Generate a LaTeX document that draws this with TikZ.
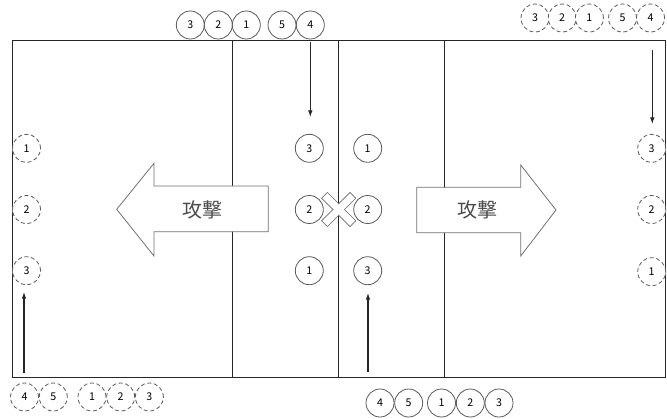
\documentclass[tikz,border=0pt]{standalone}
\usepackage{fontspec}
\usepackage{tikz}
\usetikzlibrary{arrows.meta}
\newfontfamily\jpfont{Noto Sans CJK JP}
\definecolor{ringgray}{HTML}{5A5A5A}
\definecolor{bigarrow}{HTML}{707070}
\tikzset{
  pl/.style={circle, draw=ringgray, fill=white, line width=0.6pt, minimum size=21pt, inner sep=0pt, font=\jpfont\fontsize{8}{8}\selectfont},
  op/.style={pl, dashed, dash pattern=on 3pt off 2pt},
  run/.style={-{Latex[length=5pt, width=3.5pt]}, line width=0.8pt, black!85},
  court/.style={line width=0.7pt, black!85},
  attack/.style={draw=bigarrow, fill=white, line width=0.6pt},
  atktext/.style={text=black!70, font=\jpfont\fontsize{15}{15}\selectfont}
}

\begin{document}
\begin{tikzpicture}[x=0.75pt, y=-0.75pt]
    \useasboundingbox (0, 0) rectangle (667, 418);
    % court
    \draw [court]    (12, 40) rectangle (665.5, 377.5);
    \draw [court]    (232, 40) -- (232, 377.5);
    \draw [court]    (338.7, 40) -- (338.7, 377.5);
    \draw [court]    (444.5, 40) -- (444.5, 377.5);
    % attack arrows
    \draw [attack]   (268.3, 186) -- (154, 186) -- (154, 163.3) -- (116.7, 209.3)
                     -- (154, 256) -- (154, 231.7) -- (268.3, 231.7) -- cycle;
    \node [atktext] (atkl) at (202, 209.5) {攻撃};
    \draw [attack]   (416.7, 187.3) -- (520.7, 187.3) -- (520.7, 165) -- (556, 210)
                     -- (520.7, 256) -- (520.7, 232.7) -- (416.7, 232.7) -- cycle;
    \node [atktext] (atkr) at (477, 209.5) {攻撃};
    % cross at the net
    \begin{scope}[shift={(338.7, 209.5)}]
      \draw [bigarrow, line width=0.6pt, rotate=45]  (-20, -4) rectangle (20, 4);
      \draw [bigarrow, line width=0.6pt, rotate=-45] (-20, -4) rectangle (20, 4);
      \fill [white, rotate=45]  (-19.4, -3.4) rectangle (19.4, 3.4);
      \fill [white, rotate=-45] (-19.4, -3.4) rectangle (19.4, 3.4);
    \end{scope}
    % waiting, top
    \node [pl] (t3) at (190.3, 25) {3};
    \node [pl] (t2) at (218.3, 25) {2};
    \node [pl] (t1) at (246.3, 25) {1};
    \node [pl] (t5) at (282, 25) {5};
    \node [pl] (t4) at (310.3, 25) {4};
    % waiting, bottom
    \node [pl] (b4) at (380, 403) {4};
    \node [pl] (b5) at (408.7, 403) {5};
    \node [pl] (b1) at (441.5, 403) {1};
    \node [pl] (b2) at (470.3, 403) {2};
    \node [pl] (b3) at (499, 403) {3};
    % on court, left of net
    \node [pl] (l3) at (309.3, 148.3) {3};
    \node [pl] (l2) at (309.3, 209.5) {2};
    \node [pl] (l1) at (309.3, 270.7) {1};
    % on court, right of net
    \node [pl] (r1) at (367.7, 148.3) {1};
    \node [pl] (r2) at (367.7, 209.5) {2};
    \node [pl] (r3) at (367.7, 270.7) {3};
    % next, left end
    \node [op] (e1) at (26.5, 148.3) {1};
    \node [op] (e2) at (26.5, 209.5) {2};
    \node [op] (e3) at (26.5, 270.7) {3};
    \node [op] (f4) at (24.5, 397) {4};
    \node [op] (f5) at (53.3, 397) {5};
    \node [op] (f1) at (92, 397) {1};
    \node [op] (f2) at (120.7, 397) {2};
    \node [op] (f3) at (149.4, 397) {3};
    % next, right end
    \node [op] (g3) at (651.7, 148.3) {3};
    \node [op] (g2) at (651.7, 209.5) {2};
    \node [op] (g1) at (651.7, 271.7) {1};
    \node [op] (h3) at (535, 18) {3};
    \node [op] (h2) at (562.2, 18) {2};
    \node [op] (h1) at (589.4, 18) {1};
    \node [op] (h5) at (622.5, 18) {5};
    \node [op] (h4) at (650.5, 18) {4};
    % rotations
    \coordinate (in1) at (310.3, 41.5);
    \coordinate (go1) at (310.3, 117);
    \coordinate (in2) at (368, 372);
    \coordinate (go2) at (368, 293);
    \coordinate (in3) at (24, 372.5);
    \coordinate (go3) at (24, 292);
    \coordinate (in4) at (652.3, 49.5);
    \coordinate (go4) at (652.3, 124);
    \draw [run]      (in1) -- (go1);
    \draw [run]      (in2) -- (go2);
    \draw [run]      (in3) -- (go3);
    \draw [run]      (in4) -- (go4);
\end{tikzpicture}
\end{document}
